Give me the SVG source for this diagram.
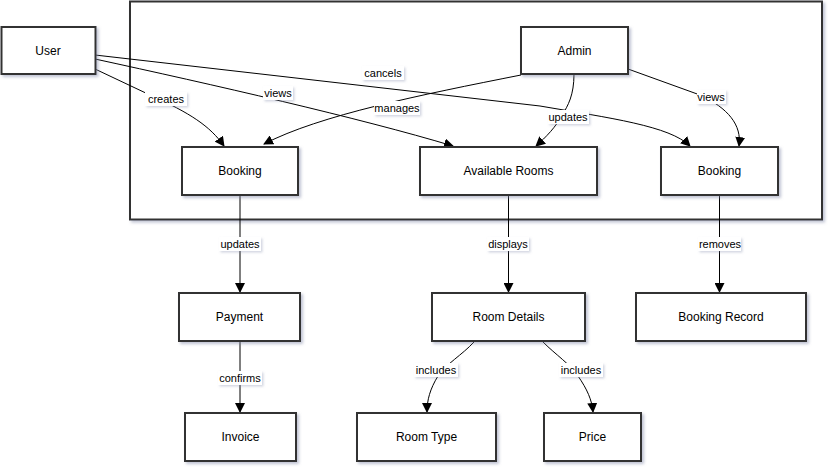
<svg xmlns="http://www.w3.org/2000/svg" width="834" height="473" viewBox="0 0 834 473">
<defs>
<filter id="sh" x="-10%" y="-10%" width="130%" height="140%">
<feDropShadow dx="2" dy="2" stdDeviation="1.5" flood-color="#8088a8" flood-opacity="0.5"/>
</filter>
<filter id="lsh" x="-10%" y="-10%" width="130%" height="140%">
<feDropShadow dx="1.5" dy="1.5" stdDeviation="1" flood-color="#8088a8" flood-opacity="0.35"/>
</filter>
<marker id="arr" viewBox="0 0 10 10" refX="9" refY="5" markerWidth="10" markerHeight="10" markerUnits="userSpaceOnUse" orient="auto">
<path d="M0,0 L10,5 L0,10 z" fill="#000"/>
</marker>
</defs>
<style>
.node rect{fill:#fff;stroke:#333;stroke-width:2;filter:url(#sh)}
.node text{font-family:"Liberation Sans",Arial,sans-serif;font-size:12px;fill:#000;text-anchor:middle;dominant-baseline:central}
.edges path{fill:none;stroke:#000;stroke-width:1;marker-end:url(#arr)}
.lbl rect{fill:#fff;filter:url(#lsh)}
.lbl text{font-family:"Liberation Sans",Arial,sans-serif;font-size:11px;fill:#000;text-anchor:middle;dominant-baseline:central}
</style>
<rect width="834" height="473" fill="#fff"/>
<g id="container"><rect x="130" y="1.5" width="692" height="218" fill="#fff" stroke="#333" stroke-width="2" filter="url(#sh)"/></g>

<g class="edges" id="connectors">
<path d="M95,69 L150,95 C190,113 210,126 224,146"/>
<path d="M95,59 C210,84 360,118 453,146"/>
<path d="M95,55 L540,106 C610,118 670,126 690,146"/>
<path d="M521,75 C420,95 320,115 264,144"/>
<path d="M574,74 C574,95 568,106 562,115 C556,127 546,137 536,146"/>
<path d="M628,69 L700,95 C728,108 742,125 739,146"/>
<path d="M240,196 L240,292"/>
<path d="M508.5,196 L508.5,292"/>
<path d="M719.5,196 L719.5,292"/>
<path d="M240,342 L240,412"/>
<path d="M474,342 C462,355 446,364 438,376 C430,389 427,400 427,412"/>
<path d="M543,342 C556,355 570,364 578,376 C587,389 592,400 593,412"/>
</g>

<g class="lbl" id="labels">
<rect x="145" y="92" width="42" height="14"/><text x="166" y="99">creates</text>
<rect x="263" y="86" width="30" height="14"/><text x="278" y="93">views</text>
<rect x="362" y="66" width="42" height="14"/><text x="383" y="73">cancels</text>
<rect x="374" y="101" width="46" height="14"/><text x="397" y="108">manages</text>
<rect x="548" y="110" width="41" height="14"/><text x="568" y="117">updates</text>
<rect x="697" y="90" width="29" height="14"/><text x="711" y="97">views</text>
<rect x="219" y="237" width="42" height="14"/><text x="240" y="244">updates</text>
<rect x="487" y="237" width="42" height="14"/><text x="508" y="244">displays</text>
<rect x="698" y="237" width="43" height="14"/><text x="720" y="244">removes</text>
<rect x="218" y="371" width="44" height="14"/><text x="240" y="378">confirms</text>
<rect x="414" y="363" width="44" height="14"/><text x="436" y="370">includes</text>
<rect x="559" y="363" width="44" height="14"/><text x="581" y="370">includes</text>
</g>

<g class="node" id="user"><rect x="1.5" y="27" width="94" height="47"/><text x="48" y="50.5">User</text></g>
<g class="node" id="admin"><rect x="521" y="27" width="107" height="47"/><text x="574.5" y="50.5">Admin</text></g>
<g class="node" id="booking1"><rect x="182" y="147" width="116" height="48"/><text x="240" y="171">Booking</text></g>
<g class="node" id="availableRooms"><rect x="420" y="147" width="177" height="48"/><text x="508.5" y="171">Available Rooms</text></g>
<g class="node" id="booking2"><rect x="661" y="147" width="117" height="48"/><text x="719.5" y="171">Booking</text></g>
<g class="node" id="payment"><rect x="179" y="293" width="121" height="48"/><text x="239.5" y="317">Payment</text></g>
<g class="node" id="roomDetails"><rect x="432" y="293" width="153" height="48"/><text x="508.5" y="317">Room Details</text></g>
<g class="node" id="bookingRecord"><rect x="636" y="293" width="170" height="48"/><text x="721" y="317">Booking Record</text></g>
<g class="node" id="invoice"><rect x="185" y="413" width="111" height="48"/><text x="240.5" y="437">Invoice</text></g>
<g class="node" id="roomType"><rect x="357" y="413" width="139" height="48"/><text x="426.5" y="437">Room Type</text></g>
<g class="node" id="price"><rect x="544" y="413" width="97" height="48"/><text x="592.5" y="437">Price</text></g>
</svg>
